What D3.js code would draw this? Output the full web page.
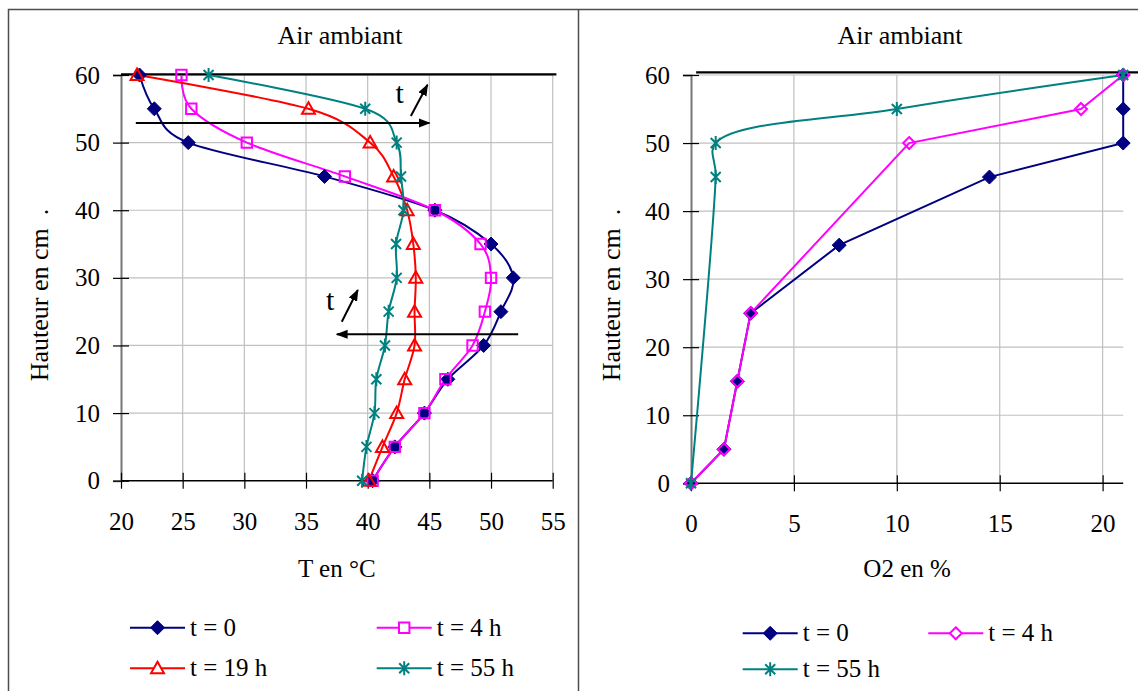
<!DOCTYPE html>
<html><head><meta charset="utf-8">
<script src="https://cdn.jsdelivr.net/npm/d3@7"></script>
<style>
body{margin:0;background:#fff}
</style></head><body>
<svg id="chart" width="1138" height="691" font-family="'Liberation Serif', 'Times New Roman', 'DejaVu Serif', serif"></svg>
<script>
// ---- Temperature profiles (height in cm, T in °C) ----
const tHeights = [0, 5, 10, 15, 20, 25, 30, 35, 40, 45, 50, 55, 60];
const temp_t0  = [40.4, 42.2, 44.6, 46.5, 49.4, 50.8, 51.8, 50.0, 45.45, 36.5, 25.45, 22.7, 21.5];
const temp_t4  = [40.4, 42.2, 44.6, 46.3, 48.5, 49.5, 50.0, 49.15, 45.45, 38.15, 30.2, 25.7, 24.9];
const temp_t19 = [40.1, 41.2, 42.35, 43.0, 43.8, 43.8, 43.9, 43.7, 43.2, 42.1, 40.2, 35.2, 21.3];
const temp_t55 = [39.55, 39.9, 40.55, 40.7, 41.4, 41.7, 42.35, 42.3, 42.9, 42.7, 42.35, 39.8, 27.1];

// ---- Oxygen profiles (height in cm, O2 in %) ----
const o2Heights_t0  = [0, 5, 15, 25, 35, 45, 50, 55, 60];
const o2_t0         = [0, 1.6, 2.25, 2.9, 7.2, 14.5, 21, 21, 21];
const o2Heights_t4  = [0, 5, 15, 25, 50, 55, 60];
const o2_t4         = [0, 1.6, 2.25, 2.9, 10.6, 18.95, 21];
const o2Heights_t55 = [0, 45, 50, 55, 60];
const o2_t55        = [0, 1.2, 1.2, 10.0, 21];

// ---- Axis ticks and labels ----
const tempTicks = [20, 25, 30, 35, 40, 45, 50, 55];
const o2Ticks = [0, 5, 10, 15, 20];
const heightTicks = [0, 10, 20, 30, 40, 50, 60];
const chartTitle = "Air ambiant";
const yTitle = "Hauteur en cm\u00a0\u00a0.";
const tempTitle = "T en °C";
const o2Title = "O2 en %";

// ---- Annotations (data units) ----
const tempTopLine = [[20, 60.1], [55.3, 60.1]];
const o2TopLine = [[0.25, 60.4], [21.8, 60.4]];
const tempArrows = [
  {from: [21.2, 52.9], to: [45.0, 52.9]},
  {from: [43.5, 53.95], to: [44.85, 58.55]},
  {from: [52.2, 21.65], to: [37.5, 21.65]},
  {from: [37.9, 23.5], to: [39.2, 28.2]}
];
const tempArrowLabels = [{x: 42.6, y: 55.9, text: "t"}, {x: 36.95, y: 25.25, text: "t"}];

const SERIF = "'Liberation Serif', 'Times New Roman', 'DejaVu Serif', serif";
const svg = d3.select("#chart");
const FONT = 25;
const TITLE_FONT = 26;

// panel frames
svg.append("path")
  .attr("d", "M8.5,691 V9.5 H1138 M578.5,9.5 V691")
  .attr("fill", "none").attr("stroke", "#4d4d4d").attr("stroke-width", 1.5);

// arrow head definition
svg.append("defs").append("marker")
  .attr("id", "head").attr("viewBox", "0 0 10 10")
  .attr("refX", 9).attr("refY", 5)
  .attr("markerWidth", 6).attr("markerHeight", 6)
  .attr("markerUnits", "strokeWidth")
  .attr("orient", "auto")
  .append("path").attr("d", "M0,1.2 L10,5 L0,8.8 Z").attr("fill", "#000");

// marker shapes
function markerPath(type) {
  switch (type) {
    case "diamond": return "M0,-7 L7,0 L0,7 L-7,0 Z";
    case "diamondOpen": return "M0,-6 L6,0 L0,6 L-6,0 Z";
    case "square": return "M-5.2,-5.2 H5.2 V5.2 H-5.2 Z";
    case "triangle": return "M0,-6.5 L6.5,5 L-6.5,5 Z";
    case "star": return "M-5,-5 L5,5 M-5,5 L5,-5 M0,-7 V7";
  }
}
function drawMarker(g, type, color, cx, cy, legend) {
  const filled = type === "diamond";
  g.append("path")
    .attr("transform", `translate(${cx},${cy})`)
    .attr("d", markerPath(type))
    .attr("fill", filled ? color : (legend && type !== "star" ? "#fff" : "none"))
    .attr("stroke", color)
    .attr("stroke-width", type === "star" ? 2 : (filled ? 1 : 2));
}

function label(g, x, y, text, size) {
  return g.append("text").attr("x", x).attr("y", y)
    .attr("font-family", SERIF).attr("font-size", size || FONT).attr("fill", "#000").text(text);
}

function buildPanel(cfg) {
  const g = svg.append("g");
  const x = d3.scaleLinear().domain(cfg.xDomain).range(cfg.xRange);
  const y = d3.scaleLinear().domain([0, 60]).range(cfg.yRange);

  // grid
  g.append("g").selectAll("line").data(cfg.xTicks.filter(d => d !== cfg.xDomain[0]))
    .join("line")
    .attr("x1", d => x(d)).attr("x2", d => x(d))
    .attr("y1", y(0)).attr("y2", y(60))
    .attr("stroke", "#c0c0c0").attr("stroke-width", 1.2);
  g.append("g").selectAll("line").data(heightTicks.filter(d => d !== 0))
    .join("line")
    .attr("x1", x.range()[0]).attr("x2", x.range()[1])
    .attr("y1", d => y(d)).attr("y2", d => y(d))
    .attr("stroke", "#c0c0c0").attr("stroke-width", 1.2);

  // y axis
  const ya = g.append("g").attr("transform", `translate(${x.range()[0]},0)`)
    .call(d3.axisLeft(y).tickValues(heightTicks).tickSize(8).tickPadding(13).tickFormat(d3.format("d")));
  ya.attr("font-family", SERIF).attr("font-size", FONT);
  ya.select(".domain").attr("stroke", "#777").attr("stroke-width", 2);
  ya.selectAll(".tick line").attr("x1", -8).attr("x2", 8).attr("stroke", "#000").attr("stroke-width", 1.2);
  ya.selectAll(".tick text").attr("font-family", SERIF).attr("font-size", FONT);

  // x axis
  const xa = g.append("g").attr("transform", `translate(0,${y(0)})`)
    .call(d3.axisBottom(x).tickValues(cfg.xTicks).tickSize(8).tickFormat(d3.format("d")));
  xa.attr("font-family", SERIF).attr("font-size", FONT);
  xa.select(".domain").attr("stroke", "#000").attr("stroke-width", 1.5)
    .attr("d", `M${x.range()[0]},0H${x.range()[1]}`);
  xa.selectAll(".tick line").attr("y1", -8).attr("y2", 8).attr("stroke", "#000").attr("stroke-width", 1.2);
  xa.selectAll(".tick text").attr("font-family", SERIF).attr("font-size", FONT)
    .attr("y", 49).attr("dy", null);

  // titles
  const cx = (x.range()[0] + x.range()[1]) / 2;
  label(g, cfg.titleX, 44, chartTitle, TITLE_FONT).attr("text-anchor", "middle");
  label(g, cx, 577, cfg.xTitle).attr("text-anchor", "middle");
  g.append("text").attr("transform", `translate(${cfg.yTitleX},295) rotate(-90)`)
    .attr("text-anchor", "middle").attr("font-family", SERIF).attr("font-size", TITLE_FONT).text(yTitle);

  // top boundary line
  g.append("path")
    .attr("d", d3.line().x(d => x(d[0])).y(d => y(d[1]))(cfg.topLine))
    .attr("stroke", "#000").attr("stroke-width", 2.2);

  // series
  cfg.series.forEach(s => {
    const pts = s.h.map((h, i) => [s.v[i], h]);
    g.append("path")
      .attr("d", d3.line().x(d => x(d[0])).y(d => y(d[1]))
        .curve(s.smooth ? d3.curveCatmullRom.alpha(s.alpha) : d3.curveLinear)(pts))
      .attr("fill", "none").attr("stroke", s.color).attr("stroke-width", 2);
  });
  cfg.series.forEach(s => {
    s.h.forEach((h, i) => drawMarker(g, s.marker, s.color, x(s.v[i]), y(h), false));
  });

  // legend
  cfg.series.forEach((s, i) => {
    const p = cfg.legendPos[i];
    g.append("line").attr("x1", p[0]).attr("x2", p[0] + 55).attr("y1", p[1]).attr("y2", p[1])
      .attr("stroke", s.color).attr("stroke-width", 2);
    drawMarker(g, s.marker, s.color, p[0] + 27.5, p[1], true);
    label(g, p[0] + 60, p[1] + 8, s.label);
  });

  return {g, x, y};
}

// ---- Left panel: temperature ----
const left = buildPanel({
  xDomain: [20, 55], xRange: [121, 552.7], yRange: [480.7, 75],
  xTicks: tempTicks, xTitle: tempTitle, yTitleX: 48, titleX: 340,
  topLine: tempTopLine,
  series: [
    {label: "t = 0",    h: tHeights, v: temp_t0,  color: "#000080", marker: "diamond",  smooth: true, alpha: 0},
    {label: "t = 4 h",  h: tHeights, v: temp_t4,  color: "#ff00ff", marker: "square",   smooth: true, alpha: 0},
    {label: "t = 19 h", h: tHeights, v: temp_t19, color: "#ff0000", marker: "triangle", smooth: true, alpha: 0},
    {label: "t = 55 h", h: tHeights, v: temp_t55, color: "#008080", marker: "star",     smooth: true, alpha: 0}
  ],
  legendPos: [[130, 627.7], [376.7, 627.7], [130, 668.3], [376.7, 668.3]]
});

// arrows and "t" labels on the temperature panel
tempArrows.forEach(a => {
  left.g.append("line")
    .attr("x1", left.x(a.from[0])).attr("y1", left.y(a.from[1]))
    .attr("x2", left.x(a.to[0])).attr("y2", left.y(a.to[1]))
    .attr("stroke", "#000").attr("stroke-width", 2).attr("marker-end", "url(#head)");
});
tempArrowLabels.forEach(t => {
  label(left.g, left.x(t.x), left.y(t.y), t.text, 30).attr("text-anchor", "middle");
});

// ---- Right panel: oxygen ----
buildPanel({
  xDomain: [0, 21], xRange: [691, 1123.2], yRange: [483.3, 75],
  xTicks: o2Ticks, xTitle: o2Title, yTitleX: 620, titleX: 900,
  topLine: o2TopLine,
  series: [
    {label: "t = 0",    h: o2Heights_t0,  v: o2_t0,  color: "#000080", marker: "diamond",     smooth: false},
    {label: "t = 4 h",  h: o2Heights_t4,  v: o2_t4,  color: "#ff00ff", marker: "diamondOpen", smooth: false},
    {label: "t = 55 h", h: o2Heights_t55, v: o2_t55, color: "#008080", marker: "star",        smooth: true, alpha: 0.5}
  ],
  legendPos: [[742.7, 633.3], [928.3, 633.3], [742.7, 669.3]]
});
</script>
</body></html>
